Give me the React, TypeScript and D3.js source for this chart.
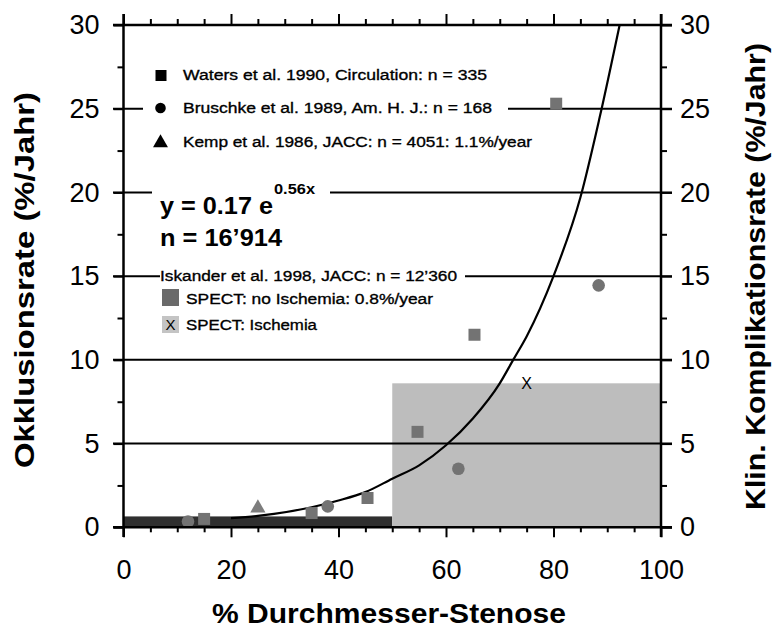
import React, { useEffect, useRef } from 'react';
import * as d3 from 'd3';

const xTicks = [0, 20, 40, 60, 80, 100];
const yTicks = [0, 5, 10, 15, 20, 25, 30];
const gridValues = [5, 10, 15, 20, 25];

// Waters et al. 1990 (squares)
const watersX = [15, 35, 45.4, 54.7, 65.3, 80.5];
const watersY = [0.5, 0.85, 1.75, 5.7, 11.5, 25.3];
// Bruschke et al. 1989 (circles)
const bruschkeX = [12, 38, 62.3, 88.4];
const bruschkeY = [0.35, 1.25, 3.5, 14.45];
// Kemp et al. 1986 (triangle)
const kempX = [25];
const kempY = [1.15];
// Iskander 1998 SPECT bars
const spectFrom = [0, 50];
const spectTo = [50, 100];
const spectRate = [0.65, 8.6];
const ischemiaMarkX = [75];
const ischemiaMarkY = [8.6];
// fitted curve
const fitX = [20, 25, 28, 35, 40, 45, 50, 55, 60, 65, 70, 72.5, 75, 80, 85, 88.6, 92.3];
const fitY = [0.55, 0.68, 0.8, 1.2, 1.6, 2.1, 2.9, 3.7, 4.9, 6.5, 8.6, 10, 11.4, 15, 19.7, 24.5, 30];

const FONT = "Arial, 'Liberation Sans', sans-serif";

export default function App() {
  const ref = useRef<SVGSVGElement | null>(null);

  useEffect(() => {
    const svg = d3.select(ref.current);
    svg.selectAll('*').remove();

    const x = d3.scaleLinear().domain([0, 100]).range([123.5, 661]);
    const y = d3.scaleLinear().domain([0, 30]).range([527.3, 25]);

    svg.append('rect').attr('width', 776).attr('height', 630).attr('fill', '#fff');

    // SPECT bars
    const spect = spectFrom.map((f, i) => ({ f, t: spectTo[i], v: spectRate[i] }));
    svg
      .append('g')
      .selectAll('rect')
      .data(spect)
      .enter()
      .append('rect')
      .attr('x', d => x(d.f))
      .attr('y', d => y(d.v))
      .attr('width', d => x(d.t) - x(d.f))
      .attr('height', d => y(0) - y(d.v))
      .attr('fill', (d, i) => (i === 0 ? '#2f2f2f' : '#bdbdbd'));

    // grid lines
    svg
      .append('g')
      .selectAll('line')
      .data(gridValues)
      .enter()
      .append('line')
      .attr('x1', 113)
      .attr('x2', 672)
      .attr('y1', d => y(d))
      .attr('y2', d => y(d))
      .attr('stroke', '#000')
      .attr('stroke-width', 2);

    // legend
    const boxes = svg.append('g').attr('fill', '#fff');
    const legend = svg.append('g').attr('font-family', FONT).attr('fill', '#000');

    const addText = (
      txt: string,
      tx: number,
      ty: number,
      size: number,
      weight: string,
      len: number,
      padL: number,
      padR: number
    ) => {
      const t = legend
        .append('text')
        .attr('x', tx)
        .attr('y', ty)
        .attr('font-size', size)
        .attr('font-weight', weight)
        .attr('textLength', len)
        .attr('lengthAdjust', 'spacingAndGlyphs')
        .text(txt);
      if (weight === 'normal') t.attr('stroke', '#000').attr('stroke-width', 0.35);
      if (padL >= 0) {
        const b = (t.node() as SVGTextElement).getBBox();
        boxes
          .append('rect')
          .attr('x', tx - padL)
          .attr('y', b.y)
          .attr('width', len + padL + padR)
          .attr('height', b.height);
      }
      return t;
    };

    addText('Waters et al. 1990, Circulation: n = 335', 183, 80, 15.5, 'normal', 304, 40, 16);
    addText('Bruschke et al. 1989, Am. H. J.: n = 168', 183, 113, 15.5, 'normal', 309, 40, 16);
    addText('Kemp et al. 1986, JACC: n = 4051: 1.1%/year', 183, 147, 15.5, 'normal', 349, 40, 16);
    boxes.append('rect').attr('x', 152).attr('y', 178).attr('width', 178).attr('height', 72);
    addText('y = 0.17 e', 160, 214, 24, 'bold', 113, -1, 0);
    addText('0.56x', 274, 194, 15, 'bold', 41, -1, 0);
    addText('n = 16\u2019914', 160, 246, 24, 'bold', 122, -1, 0);
    addText('Iskander et al. 1998, JACC: n = 12\u2019360', 160, 281, 15.5, 'normal', 297, 0, 8);
    addText('SPECT: no Ischemia: 0.8%/year', 186, 304, 15.5, 'normal', 247, 26, 8);
    addText('SPECT: Ischemia', 186, 330, 15.5, 'normal', 131, 26, 8);

    const sym = (type: d3.SymbolType, size: number) => d3.symbol().type(type).size(size)();
    legend.append('path').attr('d', sym(d3.symbolSquare, 121)).attr('transform', 'translate(161,75.5)').attr('fill', '#000');
    legend.append('path').attr('d', sym(d3.symbolCircle, 88)).attr('transform', 'translate(160.5,108)').attr('fill', '#000');
    legend.append('path').attr('d', sym(d3.symbolTriangle, 97)).attr('transform', 'translate(160.5,143)').attr('fill', '#000');
    legend.append('rect').attr('x', 162).attr('y', 289).attr('width', 17).attr('height', 17).attr('fill', '#6a6a6a');
    legend.append('rect').attr('x', 162).attr('y', 316).attr('width', 17).attr('height', 17).attr('fill', '#c4c4c4');
    legend
      .append('text')
      .attr('x', 170.5)
      .attr('y', 330)
      .attr('text-anchor', 'middle')
      .attr('font-size', 15)
      .attr('fill', '#000')
      .text('X');

    // fitted curve
    const fit = fitX.map((v, i) => [v, fitY[i]] as [number, number]);
    const line = d3
      .line<[number, number]>()
      .x(d => x(d[0]))
      .y(d => y(d[1]))
      .curve(d3.curveMonotoneX);
    svg
      .append('path')
      .attr('d', line(fit))
      .attr('fill', 'none')
      .attr('stroke', '#000')
      .attr('stroke-width', 2.2);

    // data markers
    const marks = svg.append('g').attr('fill', '#737373');
    marks
      .selectAll('.sq')
      .data(watersX.map((v, i) => [v, watersY[i]]))
      .enter()
      .append('path')
      .attr('d', sym(d3.symbolSquare, 144))
      .attr('transform', d => `translate(${x(d[0])},${y(d[1])})`);
    marks
      .selectAll('.ci')
      .data(bruschkeX.map((v, i) => [v, bruschkeY[i]]))
      .enter()
      .append('path')
      .attr('d', sym(d3.symbolCircle, 125))
      .attr('transform', d => `translate(${x(d[0])},${y(d[1])})`);
    marks
      .selectAll('.tr')
      .data(kempX.map((v, i) => [v, kempY[i]]))
      .enter()
      .append('path')
      .attr('d', sym(d3.symbolTriangle, 100))
      .attr('fill', '#7d7d7d')
      .attr('transform', d => `translate(${x(d[0])},${y(d[1])})`);
    svg
      .append('g')
      .selectAll('text')
      .data(ischemiaMarkX.map((v, i) => [v, ischemiaMarkY[i]]))
      .enter()
      .append('text')
      .attr('x', d => x(d[0]))
      .attr('y', d => y(d[1]) + 6)
      .attr('text-anchor', 'middle')
      .attr('font-family', FONT)
      .attr('font-size', 16)
      .attr('fill', '#000')
      .text('X');

    // axes
    const minorY = d3.range(2.5, 30, 5);
    const majorX = xTicks;
    const minorX = d3.range(0, 101, 5).filter(v => v % 20 !== 0);

    const styleAxis = (g: d3.Selection<SVGGElement, unknown, null, undefined>) => {
      g.select('.domain').remove();
      g.selectAll('.domain').remove();
      g.selectAll('line').attr('stroke', '#000').attr('stroke-width', 2);
      g.selectAll('text').attr('fill', '#000').attr('font-size', 27).attr('font-family', FONT);
    };

    const axes = svg.append('g');

    const left = axes.append('g').attr('transform', `translate(${x(0)},0)`);
    left.call(d3.axisLeft(y).tickValues(yTicks).tickSize(10).tickPadding(14));
    left.append('g').call(d3.axisLeft(y).tickValues(minorY).tickSize(6).tickFormat(() => ''));
    styleAxis(left);

    const right = axes.append('g').attr('transform', `translate(${x(100)},0)`);
    right.call(d3.axisRight(y).tickValues(yTicks).tickSize(11).tickPadding(8));
    right.append('g').call(d3.axisRight(y).tickValues(minorY).tickSize(6).tickFormat(() => ''));
    styleAxis(right);

    const bottom = axes.append('g').attr('transform', `translate(0,${y(0)})`);
    bottom.call(d3.axisBottom(x).tickValues(majorX).tickSize(10).tickPadding(23));
    bottom.append('g').call(d3.axisBottom(x).tickValues(minorX).tickSize(5).tickFormat(() => ''));
    styleAxis(bottom);

    const top = axes.append('g').attr('transform', `translate(0,${y(30)})`);
    top.call(d3.axisTop(x).tickValues(majorX).tickSize(11).tickFormat(() => ''));
    top.append('g').call(d3.axisTop(x).tickValues(minorX).tickSize(6).tickFormat(() => ''));
    styleAxis(top);

    // frame
    const frame = svg.append('g').attr('stroke', '#000').attr('stroke-width', 2.5);
    frame.append('line').attr('x1', x(0)).attr('x2', x(0)).attr('y1', 14).attr('y2', 537);
    frame.append('line').attr('x1', x(100)).attr('x2', x(100)).attr('y1', 14).attr('y2', 537);
    frame.append('line').attr('x1', 113).attr('x2', 672).attr('y1', y(0)).attr('y2', y(0));
    frame.append('line').attr('x1', 113).attr('x2', 672).attr('y1', y(30)).attr('y2', y(30));

    // axis titles
    const titles = svg.append('g').attr('font-family', FONT).attr('font-weight', 'bold').attr('font-size', 28).attr('fill', '#000');
    titles
      .append('text')
      .attr('x', 389)
      .attr('y', 623)
      .attr('font-size', 27)
      .attr('text-anchor', 'middle')
      .attr('textLength', 354)
      .attr('lengthAdjust', 'spacingAndGlyphs')
      .text('% Durchmesser-Stenose');
    titles
      .append('text')
      .attr('transform', 'translate(34,280) rotate(-90)')
      .attr('text-anchor', 'middle')
      .attr('textLength', 376)
      .attr('lengthAdjust', 'spacingAndGlyphs')
      .text('Okklusionsrate (%/Jahr)');
    titles
      .append('text')
      .attr('transform', 'translate(765,276.5) rotate(-90)')
      .attr('text-anchor', 'middle')
      .attr('textLength', 467)
      .attr('lengthAdjust', 'spacingAndGlyphs')
      .text('Klin. Komplikationsrate (%/Jahr)');
  }, []);

  return (
    <div style={{ position: 'absolute', left: 0, top: 0 }}>
      <svg ref={ref} width={776} height={630} style={{ display: 'block' }} />
    </div>
  );
}
